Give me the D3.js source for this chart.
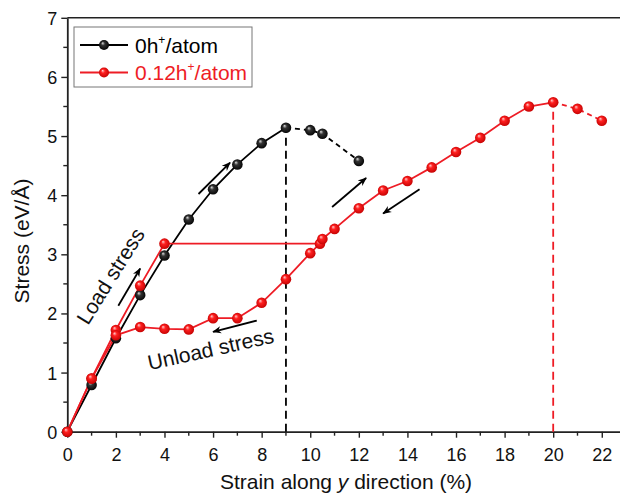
<!DOCTYPE html>
<html><head><meta charset="utf-8">
<script src="https://cdn.jsdelivr.net/npm/d3@7"></script>
<style>
body{margin:0;background:#fff;}
svg{display:block;font-family:Arial,"Liberation Sans",sans-serif;}
</style></head>
<body><svg id="c" width="620" height="498"></svg>
<script>
// ---- data ----
const blackStrain = [0,1,2,3,4,5,6,7,8,9];
const blackStress = [0,0.79,1.58,2.31,2.98,3.59,4.10,4.52,4.88,5.14];
const blackDashStrain = [9,10,10.5,12];
const blackDashStress = [5.14,5.10,5.04,4.58];

const redLoadStrain = [0,1,2,3,4,10.4,10.5,11,12,13,14,15,16,17,18,19,20];
const redLoadStress = [0,0.90,1.72,2.47,3.18,3.18,3.26,3.43,3.78,4.08,4.24,4.47,4.73,4.97,5.26,5.50,5.57];
const redUnloadStrain = [10.4,10,9,8,7,6,5,4,3,2,1,0];
const redUnloadStress = [3.18,3.02,2.58,2.18,1.92,1.92,1.73,1.74,1.77,1.63,0.90,0];
const redDashStrain = [20,21,22];
const redDashStress = [5.57,5.46,5.26];

const peakBlack = [9,5.14];
const peakRed = [20,5.57];

const xTicks = [0,2,4,6,8,10,12,14,16,18,20,22];
const yTicks = [0,1,2,3,4,5,6,7];
const seriesNames = ["0h","0.12h"];
const xTitle = "Strain along ";
const yTitle = "Stress (eV/Å)";

// annotation arrows in data units [x1,y1,x2,y2] (tail -> head)
const arrows = [
  [2.1,2.13,3.0,2.76],
  [5.4,4.02,6.7,4.55],
  [10.9,3.80,12.3,4.29],
  [14.5,4.10,13.0,3.69],
  [7.8,1.88,6.0,1.69]
];

// ---- layout ----
const svg = d3.select("#c");
const x = d3.scaleLinear().domain([0,22.75]).range([67.3,620]);
const y = d3.scaleLinear().domain([0,7]).range([431.7,17.8]);
const red = "#ee1c25";

const defs = svg.append("defs");
function grad(id, hi, mid, edge){
  const g = defs.append("radialGradient").attr("id",id)
    .attr("cx","50%").attr("cy","50%").attr("r","55%").attr("fx","35%").attr("fy","30%");
  g.append("stop").attr("offset","0%").attr("stop-color",hi);
  g.append("stop").attr("offset","35%").attr("stop-color",mid);
  g.append("stop").attr("offset","100%").attr("stop-color",edge);
}
grad("gb","#e0e0e0","#333","#000");
grad("gr","#ffd0d0","#ff2020","#c00000");
defs.append("marker").attr("id","ah").attr("viewBox","0 0 10 10")
  .attr("refX",9).attr("refY",5).attr("markerWidth",9).attr("markerHeight",9)
  .attr("markerUnits","userSpaceOnUse").attr("orient","auto")
  .append("path").attr("d","M0,1 L10,5 L0,9 L3,5 Z").attr("fill","#000");

// axes frame
const axCol = "#222";
svg.append("line").attr("x1",x(0)).attr("x2",620).attr("y1",y(7)).attr("y2",y(7))
  .attr("stroke",axCol).attr("stroke-width",1.6);

const xAxis = d3.axisBottom(x).tickValues(xTicks).tickFormat(d3.format("d")).tickSize(6).tickSizeOuter(0);
const gx = svg.append("g").attr("transform",`translate(0,${y(0)})`).call(xAxis);
const xMinor = d3.range(1,23,2);
gx.selectAll(".minor").data(xMinor).enter().append("line").attr("class","minor")
  .attr("x1",d=>x(d)).attr("x2",d=>x(d)).attr("y1",0).attr("y2",4).attr("stroke",axCol).attr("stroke-width",1.4);

const yAxis = d3.axisLeft(y).tickValues(yTicks).tickFormat(d3.format("d")).tickSize(6).tickSizeOuter(0);
const gy = svg.append("g").attr("transform",`translate(${x(0)},0)`).call(yAxis);
const yMinor = d3.range(0.5,7,1);
gy.selectAll(".minor").data(yMinor).enter().append("line").attr("class","minor")
  .attr("y1",d=>y(d)).attr("y2",d=>y(d)).attr("x1",0).attr("x2",-4).attr("stroke",axCol).attr("stroke-width",1.4);

[gx,gy].forEach(g=>{
  g.select(".domain").attr("stroke",axCol).attr("stroke-width",1.8);
  g.selectAll(".tick line").attr("stroke",axCol).attr("stroke-width",1.4);
  g.selectAll(".tick text").attr("font-size",18).attr("fill","#111")
    .attr("font-family","Arial,'Liberation Sans',sans-serif");
});
gx.selectAll(".tick text").attr("dy",0).attr("y",29);
gy.selectAll(".tick text").attr("x",-10).attr("dy","0.36em");

// axis titles
const xt = svg.append("text").attr("x",346).attr("y",489).attr("text-anchor","middle")
  .attr("font-size",21).attr("fill","#111");
xt.append("tspan").text(xTitle);
xt.append("tspan").attr("font-style","italic").text("y");
xt.append("tspan").text(" direction (%)");
svg.append("text").attr("transform","translate(29,241) rotate(-90)").attr("text-anchor","middle")
  .attr("font-size",21).attr("fill","#111").text(yTitle);

// dashed verticals
svg.append("line").attr("x1",x(peakBlack[0])).attr("x2",x(peakBlack[0]))
  .attr("y1",y(0)).attr("y2",y(peakBlack[1])).attr("stroke","#000").attr("stroke-width",1.8).attr("stroke-dasharray","8,5");
svg.append("line").attr("x1",x(peakRed[0])).attr("x2",x(peakRed[0]))
  .attr("y1",y(0)).attr("y2",y(peakRed[1])).attr("stroke",red).attr("stroke-width",1.8).attr("stroke-dasharray","8,5");

const line = d3.line().x(d=>x(d[0])).y(d=>y(d[1]));
const zip = (a,b)=>a.map((v,i)=>[v,b[i]]);

const blackSolid = zip(blackStrain,blackStress);
const blackDash = zip(blackDashStrain,blackDashStress);
const redLoad = zip(redLoadStrain,redLoadStress);
const redUnload = zip(redUnloadStrain,redUnloadStress);
const redDash = zip(redDashStrain,redDashStress);

function path(data,col,dash){
  svg.append("path").datum(data).attr("d",line).attr("fill","none").attr("stroke",col)
    .attr("stroke-width",1.8).attr("stroke-dasharray",dash||null);
}
path(blackSolid,"#000");
path(blackDash,"#000","5,4");
path(redLoad,red);
path(redUnload,red);
path(redDash,red,"5,4");

function dots(data,g){
  svg.append("g").selectAll("circle").data(data).enter().append("circle")
    .attr("cx",d=>x(d[0])).attr("cy",d=>y(d[1])).attr("r",5.3).attr("fill",`url(#${g})`);
}
dots(blackSolid.concat(blackDash.slice(1)),"gb");
dots(redLoad.concat(redUnload.slice(1,-1)).concat(redDash.slice(1)),"gr");

// arrows
svg.append("g").selectAll("line").data(arrows).enter().append("line")
  .attr("x1",d=>x(d[0])).attr("y1",d=>y(d[1])).attr("x2",d=>x(d[2])).attr("y2",d=>y(d[3]))
  .attr("stroke","#000").attr("stroke-width",1.8).attr("marker-end","url(#ah)");

// annotation text
svg.append("text").attr("transform","translate(112,277) rotate(-58)").attr("text-anchor","middle")
  .attr("dominant-baseline","middle").attr("font-size",21).attr("fill","#111").text("Load stress");
svg.append("text").attr("transform","translate(211,351) rotate(-12.5)").attr("text-anchor","middle")
  .attr("dominant-baseline","middle").attr("font-size",21).attr("fill","#111").text("Unload stress");

// legend
const lg = svg.append("g");
lg.append("rect").attr("x",74).attr("y",27).attr("width",178).attr("height",60)
  .attr("fill","#fff").attr("stroke","#777").attr("stroke-width",1);
const legendRows = [{name:seriesNames[0],col:"#000",g:"gb",yy:45},{name:seriesNames[1],col:red,g:"gr",yy:72.5}];
legendRows.forEach(r=>{
  lg.append("line").attr("x1",80).attr("x2",128).attr("y1",r.yy).attr("y2",r.yy).attr("stroke",r.col).attr("stroke-width",1.8);
  lg.append("circle").attr("cx",104).attr("cy",r.yy).attr("r",5).attr("fill",`url(#${r.g})`);
  const t = lg.append("text").attr("x",135).attr("y",r.yy+7.5).attr("font-size",21).attr("fill",r.col);
  t.append("tspan").text(r.name);
  t.append("tspan").attr("font-size",12).attr("dy",-9).text("+");
  t.append("tspan").attr("dy",9).text("/atom");
});
</script></body></html>
